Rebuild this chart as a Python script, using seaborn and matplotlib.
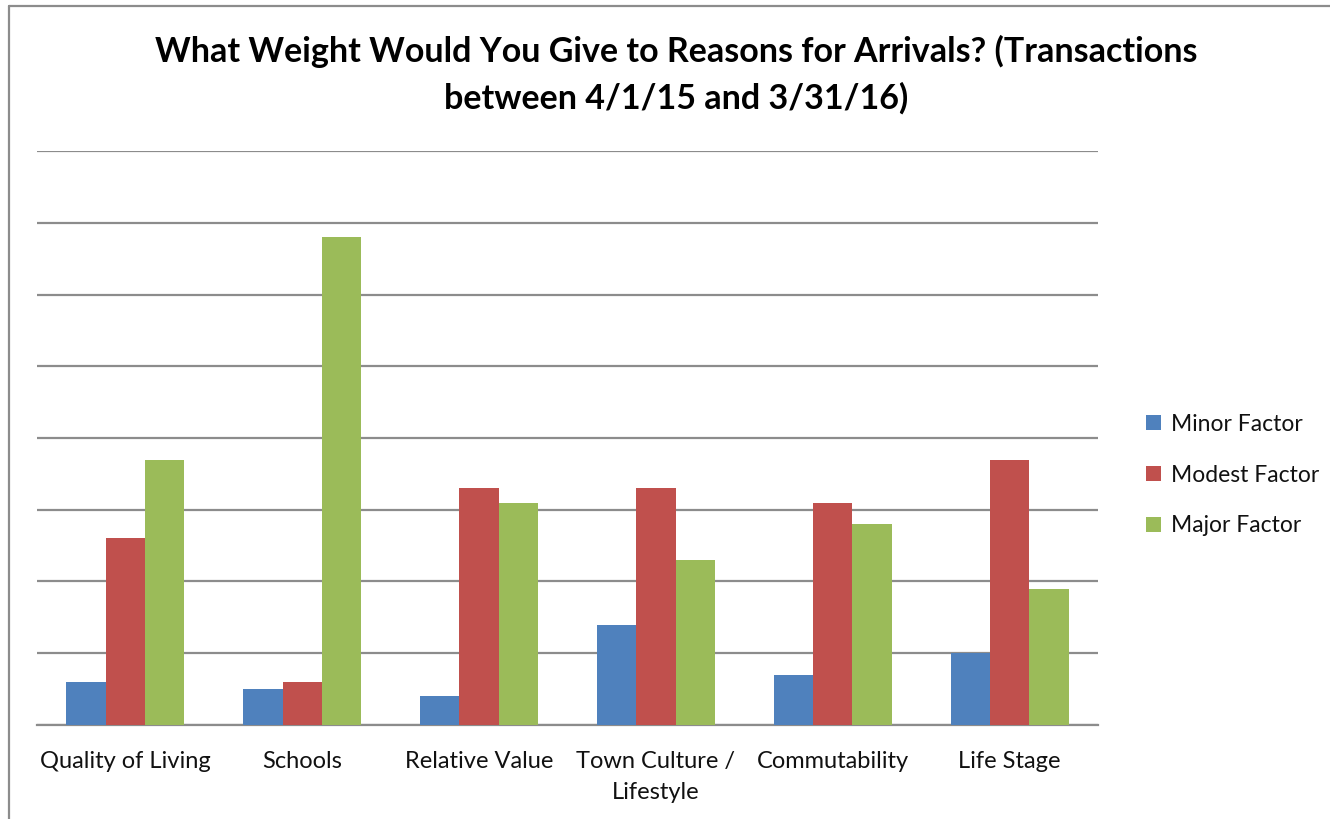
import matplotlib
matplotlib.use("Agg")
import matplotlib.pyplot as plt
import seaborn as sns
import pandas as pd
from matplotlib.lines import Line2D

categories = ["Quality of Living", "Schools", "Relative Value",
              "Town Culture /\nLifestyle", "Commutability", "Life Stage"]
series = ["Minor Factor", "Modest Factor", "Major Factor"]
minor = [0.6, 0.5, 0.4, 1.4, 0.7, 1.0]
modest = [2.6, 0.6, 3.3, 3.3, 3.1, 3.7]
major = [3.7, 6.8, 3.1, 2.3, 2.8, 1.9]
colors = ["#4F81BD", "#C0504D", "#9BBB59"]

rows = []
for s, vals in zip(series, [minor, modest, major]):
    for c, v in zip(categories, vals):
        rows.append({"Category": c, "Series": s, "Value": v})
df = pd.DataFrame(rows)

sns.set_style("white")
plt.rcParams["font.family"] = ["Lato", "DejaVu Sans"]

fig = plt.figure(figsize=(13.3, 8.19), dpi=100)
ax = fig.add_axes([0.0278, 0.1148, 0.7978, 0.7008])
sns.barplot(data=df, x="Category", y="Value", hue="Series", order=categories,
            hue_order=series, palette=colors, width=0.667, saturation=1,
            edgecolor="none", ax=ax, zorder=3)

ax.set_ylim(0, 8)
ax.set_yticks(range(0, 9))
ax.yaxis.grid(True, color="#8c8c8c", linewidth=1.6, zorder=0)
ax.set_axisbelow(True)
ax.tick_params(axis="y", left=False, labelleft=False)
ax.tick_params(axis="x", bottom=False, labelsize=17, pad=15, colors="#111111")
for lbl in ax.get_xticklabels():
    lbl.set_linespacing(1.6)
for s in ["left", "right", "top"]:
    ax.spines[s].set_visible(False)
ax.spines["bottom"].set_color("#8c8c8c")
ax.spines["bottom"].set_linewidth(1.6)
ax.set_xlabel("")
ax.set_ylabel("")
ax.set_xlim(-0.5, 5.5)

handles, labels = ax.get_legend_handles_labels()
ax.legend_.remove()
leg = fig.legend(handles, labels, loc="center left", bbox_to_anchor=(0.846, 0.42),
                 frameon=False, fontsize=16.5, handlelength=0.65, handleheight=0.65,
                 handletextpad=0.45, labelspacing=1.3)
for t in leg.get_texts():
    t.set_color("#111111")

fig.suptitle("What Weight Would You Give to Reasons for Arrivals? (Transactions\nbetween 4/1/15 and 3/31/16)",
             x=0.5086, y=0.958, fontsize=24.5, fontweight="bold", linespacing=1.54,
             color="black")

# chart border (left and top, as in the cropped screenshot)
fig.add_artist(Line2D([0.0068, 0.0068], [0.0, 0.9927], transform=fig.transFigure,
                      color="#8c8c8c", linewidth=1.6))
fig.add_artist(Line2D([0.0068, 1.0], [0.9927, 0.9927], transform=fig.transFigure,
                      color="#8c8c8c", linewidth=1.6))

fig.savefig("out.png", dpi=100)
